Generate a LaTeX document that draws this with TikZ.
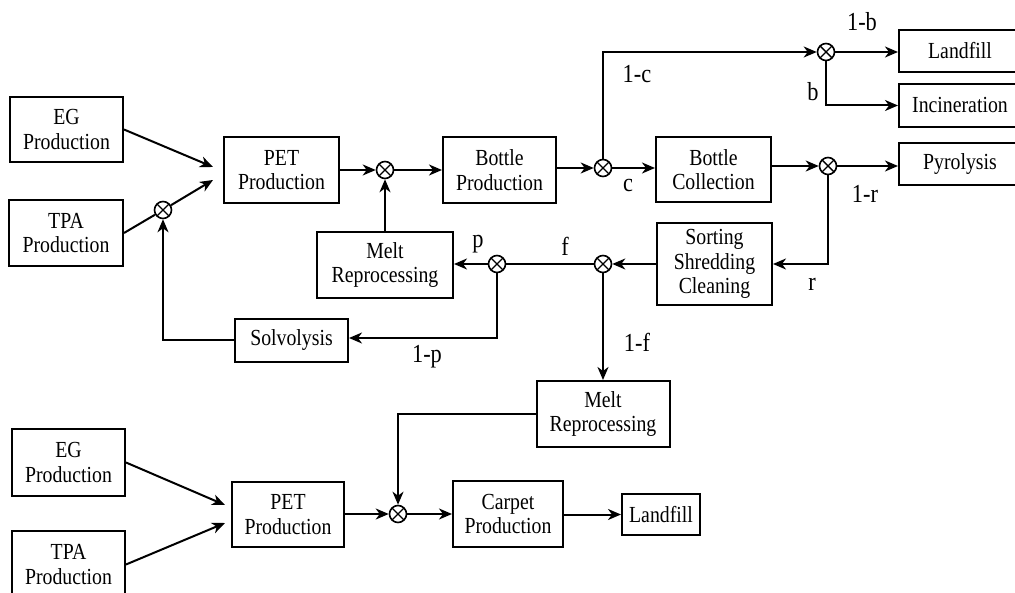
\documentclass[tikz,border=0pt]{standalone}
\usepackage{fontspec}
\setmainfont[FakeStretch=0.86]{Liberation Serif}
\usetikzlibrary{arrows.meta}
\begin{document}
\begin{tikzpicture}[x=1pt,y=-1pt,
 box/.style={draw,line width=2pt,inner sep=0pt,align=center,font=\fontsize{23}{24.5}\selectfont},
 jn/.style={draw,circle,line width=1.6pt,minimum size=17pt,inner sep=0pt,
   path picture={\draw[line width=1.4pt] ([shift={(45:9pt)}]path picture bounding box.center) -- ([shift={(225:9pt)}]path picture bounding box.center);
   \draw[line width=1.4pt] ([shift={(135:9pt)}]path picture bounding box.center) -- ([shift={(315:9pt)}]path picture bounding box.center);}},
 ln/.style={line width=2pt},
 ar/.style={line width=2pt,-{Stealth[length=13pt,width=11pt,inset=4pt]}},
 lab/.style={font=\fontsize{26}{28}\selectfont,inner sep=0pt}]
\useasboundingbox (0,0) rectangle (1015,593);
\clip (0,0) rectangle (1015,593);
% top part
\node[box,minimum width=113pt,minimum height=65pt] (eg1) at (66.5,129.5) {EG\\Production};
\node[box,minimum width=114pt,minimum height=66pt] (tpa1) at (66,233) {TPA\\Production};
\node[box,minimum width=115pt,minimum height=66pt] (pet1) at (281.5,170) {PET\\Production};
\node[jn] (jt) at (163,210) {};
\node[jn] (j1) at (385,170) {};
\node[box,minimum width=113pt,minimum height=66pt] (bp) at (499.5,170) {Bottle\\Production};
\node[jn] (j2) at (603,168) {};
\node[box,minimum width=115pt,minimum height=65pt] (bc) at (713.5,169.5) {Bottle\\Collection};
\node[jn] (j3) at (828,166) {};
\node[jn] (jtop) at (826,52) {};
\node[box,minimum width=122pt,minimum height=42pt] (lf1) at (960,51) {Landfill};
\node[box,minimum width=122pt,minimum height=43pt] (inc) at (960,105.5) {Incineration};
\node[box,minimum width=122pt,minimum height=42pt] (pyr) at (960,164) {Pyrolysis};
\node[box,minimum width=115pt,minimum height=82pt] (sort) at (714.5,264) {Sorting\\Shredding\\Cleaning};
\node[jn] (jf) at (603,264) {};
\node[jn] (jp) at (497,264) {};
\node[box,minimum width=136pt,minimum height=66pt] (melt1) at (385,265) {Melt\\Reprocessing};
\node[box,minimum width=113pt,minimum height=43pt] (solv) at (291.5,340.5) {Solvolysis};
% bottom part
\node[box,minimum width=133pt,minimum height=66pt] (melt2) at (603,414) {Melt\\Reprocessing};
\node[box,minimum width=113pt,minimum height=67pt] (eg2) at (68.5,462.5) {EG\\Production};
\node[box,minimum width=113pt,minimum height=67pt] (tpa2) at (68.5,564.5) {TPA\\Production};
\node[box,minimum width=112pt,minimum height=65pt] (pet2) at (288,514.5) {PET\\Production};
\node[jn] (j4) at (398,514) {};
\node[box,minimum width=110pt,minimum height=66pt] (carp) at (508,514) {Carpet\\Production};
\node[box,minimum width=78pt,minimum height=41pt] (lf2) at (661,514.5) {Landfill};
% free ends
\coordinate (a1) at (213,167);
\coordinate (a2) at (213,180);
\coordinate (a3) at (225,505);
\coordinate (a4) at (225,523);
% connectors top
\draw[ar] (eg1.east) -- (a1);
\draw[ln] (tpa1.east) -- (jt);
\draw[ar] (jt) -- (a2);
\draw[ar] (pet1) -- (j1);
\draw[ar] (melt1) -- (j1);
\draw[ar] (j1) -- (bp);
\draw[ar] (bp.east |- j2) -- (j2);
\draw[ar] (j2) -- (bc.west |- j2);
\draw[ar] (j2) |- (jtop);
\draw[ar] (bc.east |- j3) -- (j3);
\draw[ar] (j3) -- (pyr.west |- j3);
\draw[ar] (j3) |- (sort.east);
\draw[ar] (jtop) -- (lf1.west |- jtop);
\draw[ar] (jtop) |- (inc.west);
\draw[ar] (sort.west |- jf) -- (jf);
\draw[ln] (jf) -- (jp);
\draw[ar] (jp) -- (melt1.east |- jp);
\draw[ar] (jp) |- (solv.east |- 0,338);
\draw[ar] (solv.west) -| (jt);
\draw[ar] (jf) -- (melt2.north);
% connectors bottom
\draw[ar] (melt2.west) -| (j4);
\draw[ar] (eg2.east) -- (a3);
\draw[ar] (tpa2.east) -- (a4);
\draw[ar] (pet2.east |- j4) -- (j4);
\draw[ar] (j4) -- (carp.west |- j4);
\draw[ar] (carp.east |- lf2) -- (lf2.west);
% labels
\node[lab] (l1b) at (862,22) {1-b};
\node[lab] (l1c) at (637,74) {1-c};
\node[lab] (lb) at (813,92) {b};
\node[lab] (lc) at (628,186) {c};
\node[lab] (l1r) at (865,194) {1-r};
\node[lab] (lr) at (812,284) {r};
\node[lab] (lp) at (478,244) {p};
\node[lab] (lf) at (565,246) {f};
\node[lab] (l1p) at (427,357) {1-p};
\node[lab] (l1f) at (637,342) {1-f};
\end{tikzpicture}
\end{document}
